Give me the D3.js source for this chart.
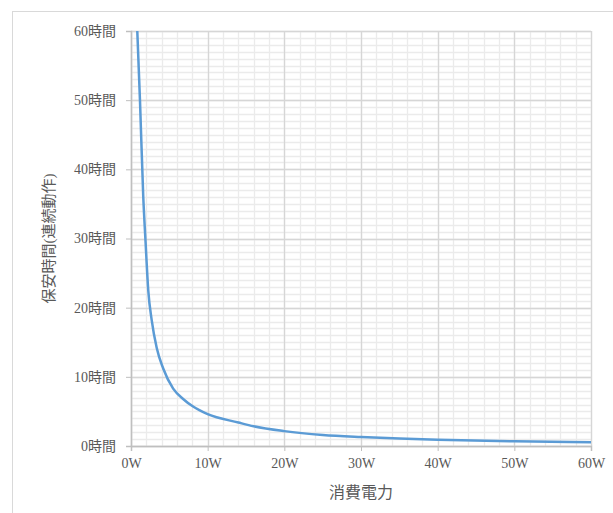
<!DOCTYPE html>
<html>
<head>
<meta charset="utf-8">
<script src="https://cdn.jsdelivr.net/npm/d3@7"></script>
<style>
    body { margin: 0; background: #fff; }
    text { font-family: "Liberation Serif", "Noto Sans CJK JP", serif; fill: #595959; }
</style>
</head>
<body>
<div id="chart"></div>
<script>
// values: watts vs hours
let watts = [0.82, 1.17, 1.6, 1.9, 2.25, 2.7, 3.35, 4.2, 5.5, 6.8, 8.1, 10, 14, 16, 20, 25, 30, 35, 40, 50, 60];
let hours = [60, 50, 36, 29.5, 22.5, 18.2, 14.2, 11.2, 8.3, 6.8, 5.7, 4.6, 3.4, 2.85, 2.15, 1.6, 1.3, 1.08, 0.9, 0.68, 0.55];
let x_ticks = [0, 10, 20, 30, 40, 50, 60];
let y_ticks = [0, 10, 20, 30, 40, 50, 60];
let x_title = "消費電力";
let y_title = "保安時間(連続動作)";

let width = 613, height = 513;
let margin = {top: 31, right: 22, bottom: 67, left: 131};
let w = width - margin.left - margin.right
    , h = height - margin.top - margin.bottom;

let svg = d3.select("#chart").append("svg")
    .attr("width", width)
    .attr("height", height);

// outer chart frame (runs past the window edge)
svg.append("rect")
    .attr("x", 12.5).attr("y", 11.5)
    .attr("width", 620).attr("height", 520)
    .style("fill", "none")
    .style("stroke", "#d9d9d9");

let g = svg.append("g")
    .attr("transform", "translate(" + margin.left + "," + margin.top + ")");

let xScale = d3.scaleLinear().domain([0, 60]).range([0, w]);
let yScale = d3.scaleLinear().domain([0, 60]).range([h, 0]);

// minor grid
g.append("g").selectAll("line")
    .data(d3.range(0, 61, 2))
    .enter().append("line")
    .attr("x1", d => Math.round(xScale(d)) + 0.5).attr("x2", d => Math.round(xScale(d)) + 0.5)
    .attr("y1", 0).attr("y2", h)
    .style("stroke", "#ebebeb").style("stroke-width", 1.3);
g.append("g").selectAll("line")
    .data(d3.range(0, 61, 1))
    .enter().append("line")
    .attr("y1", d => Math.round(yScale(d)) + 0.5).attr("y2", d => Math.round(yScale(d)) + 0.5)
    .attr("x1", 0).attr("x2", w)
    .style("stroke", "#ebebeb").style("stroke-width", 1.3);

// major grid
g.append("g").selectAll("line")
    .data(x_ticks)
    .enter().append("line")
    .attr("x1", d => Math.round(xScale(d)) + 0.5).attr("x2", d => Math.round(xScale(d)) + 0.5)
    .attr("y1", 0).attr("y2", h)
    .style("stroke", "#d6d6d6").style("stroke-width", 1.3);
g.append("g").selectAll("line")
    .data(y_ticks)
    .enter().append("line")
    .attr("y1", d => Math.round(yScale(d)) + 0.5).attr("y2", d => Math.round(yScale(d)) + 0.5)
    .attr("x1", 0).attr("x2", w)
    .style("stroke", "#d6d6d6").style("stroke-width", 1.3);

// axes
let xAxis = g.append("g")
    .attr("transform", "translate(0," + h + ")")
    .call(d3.axisBottom(xScale).tickValues(x_ticks).tickSize(5).tickPadding(7)
        .tickFormat(d => d + "W"));
let yAxis = g.append("g")
    .call(d3.axisLeft(yScale).tickValues(y_ticks).tickSize(5).tickPadding(10)
        .tickFormat(d => d + "時間"));
[xAxis, yAxis].forEach(a => {
    a.select(".domain").style("stroke", "#bfbfbf").style("stroke-width", 1.5);
    a.selectAll(".tick line").style("stroke", "#bfbfbf");
    a.selectAll(".tick text").style("font-size", "14px").style("fill", "#595959")
        .style("font-family", "'Liberation Serif', 'Noto Sans CJK JP', serif");
});

// line
let dataset = watts.map((d, i) => ({x: d, y: hours[i]}));
let line = d3.line()
    .x(d => xScale(d.x))
    .y(d => yScale(d.y))
    .curve(d3.curveMonotoneX);
g.append("path")
    .datum(dataset)
    .attr("d", line)
    .style("fill", "none")
    .style("stroke", "#5b9bd5")
    .style("stroke-width", 2.5)
    .style("stroke-linejoin", "round");

// titles
svg.append("text")
    .attr("x", margin.left + w / 2)
    .attr("y", 498)
    .attr("text-anchor", "middle")
    .style("font-size", "16px")
    .text(x_title);
svg.append("text")
    .attr("transform", "translate(54," + (margin.top + h / 2) + ") rotate(-90)")
    .attr("text-anchor", "middle")
    .style("font-size", "15px")
    .text(y_title);
</script>
</body>
</html>
